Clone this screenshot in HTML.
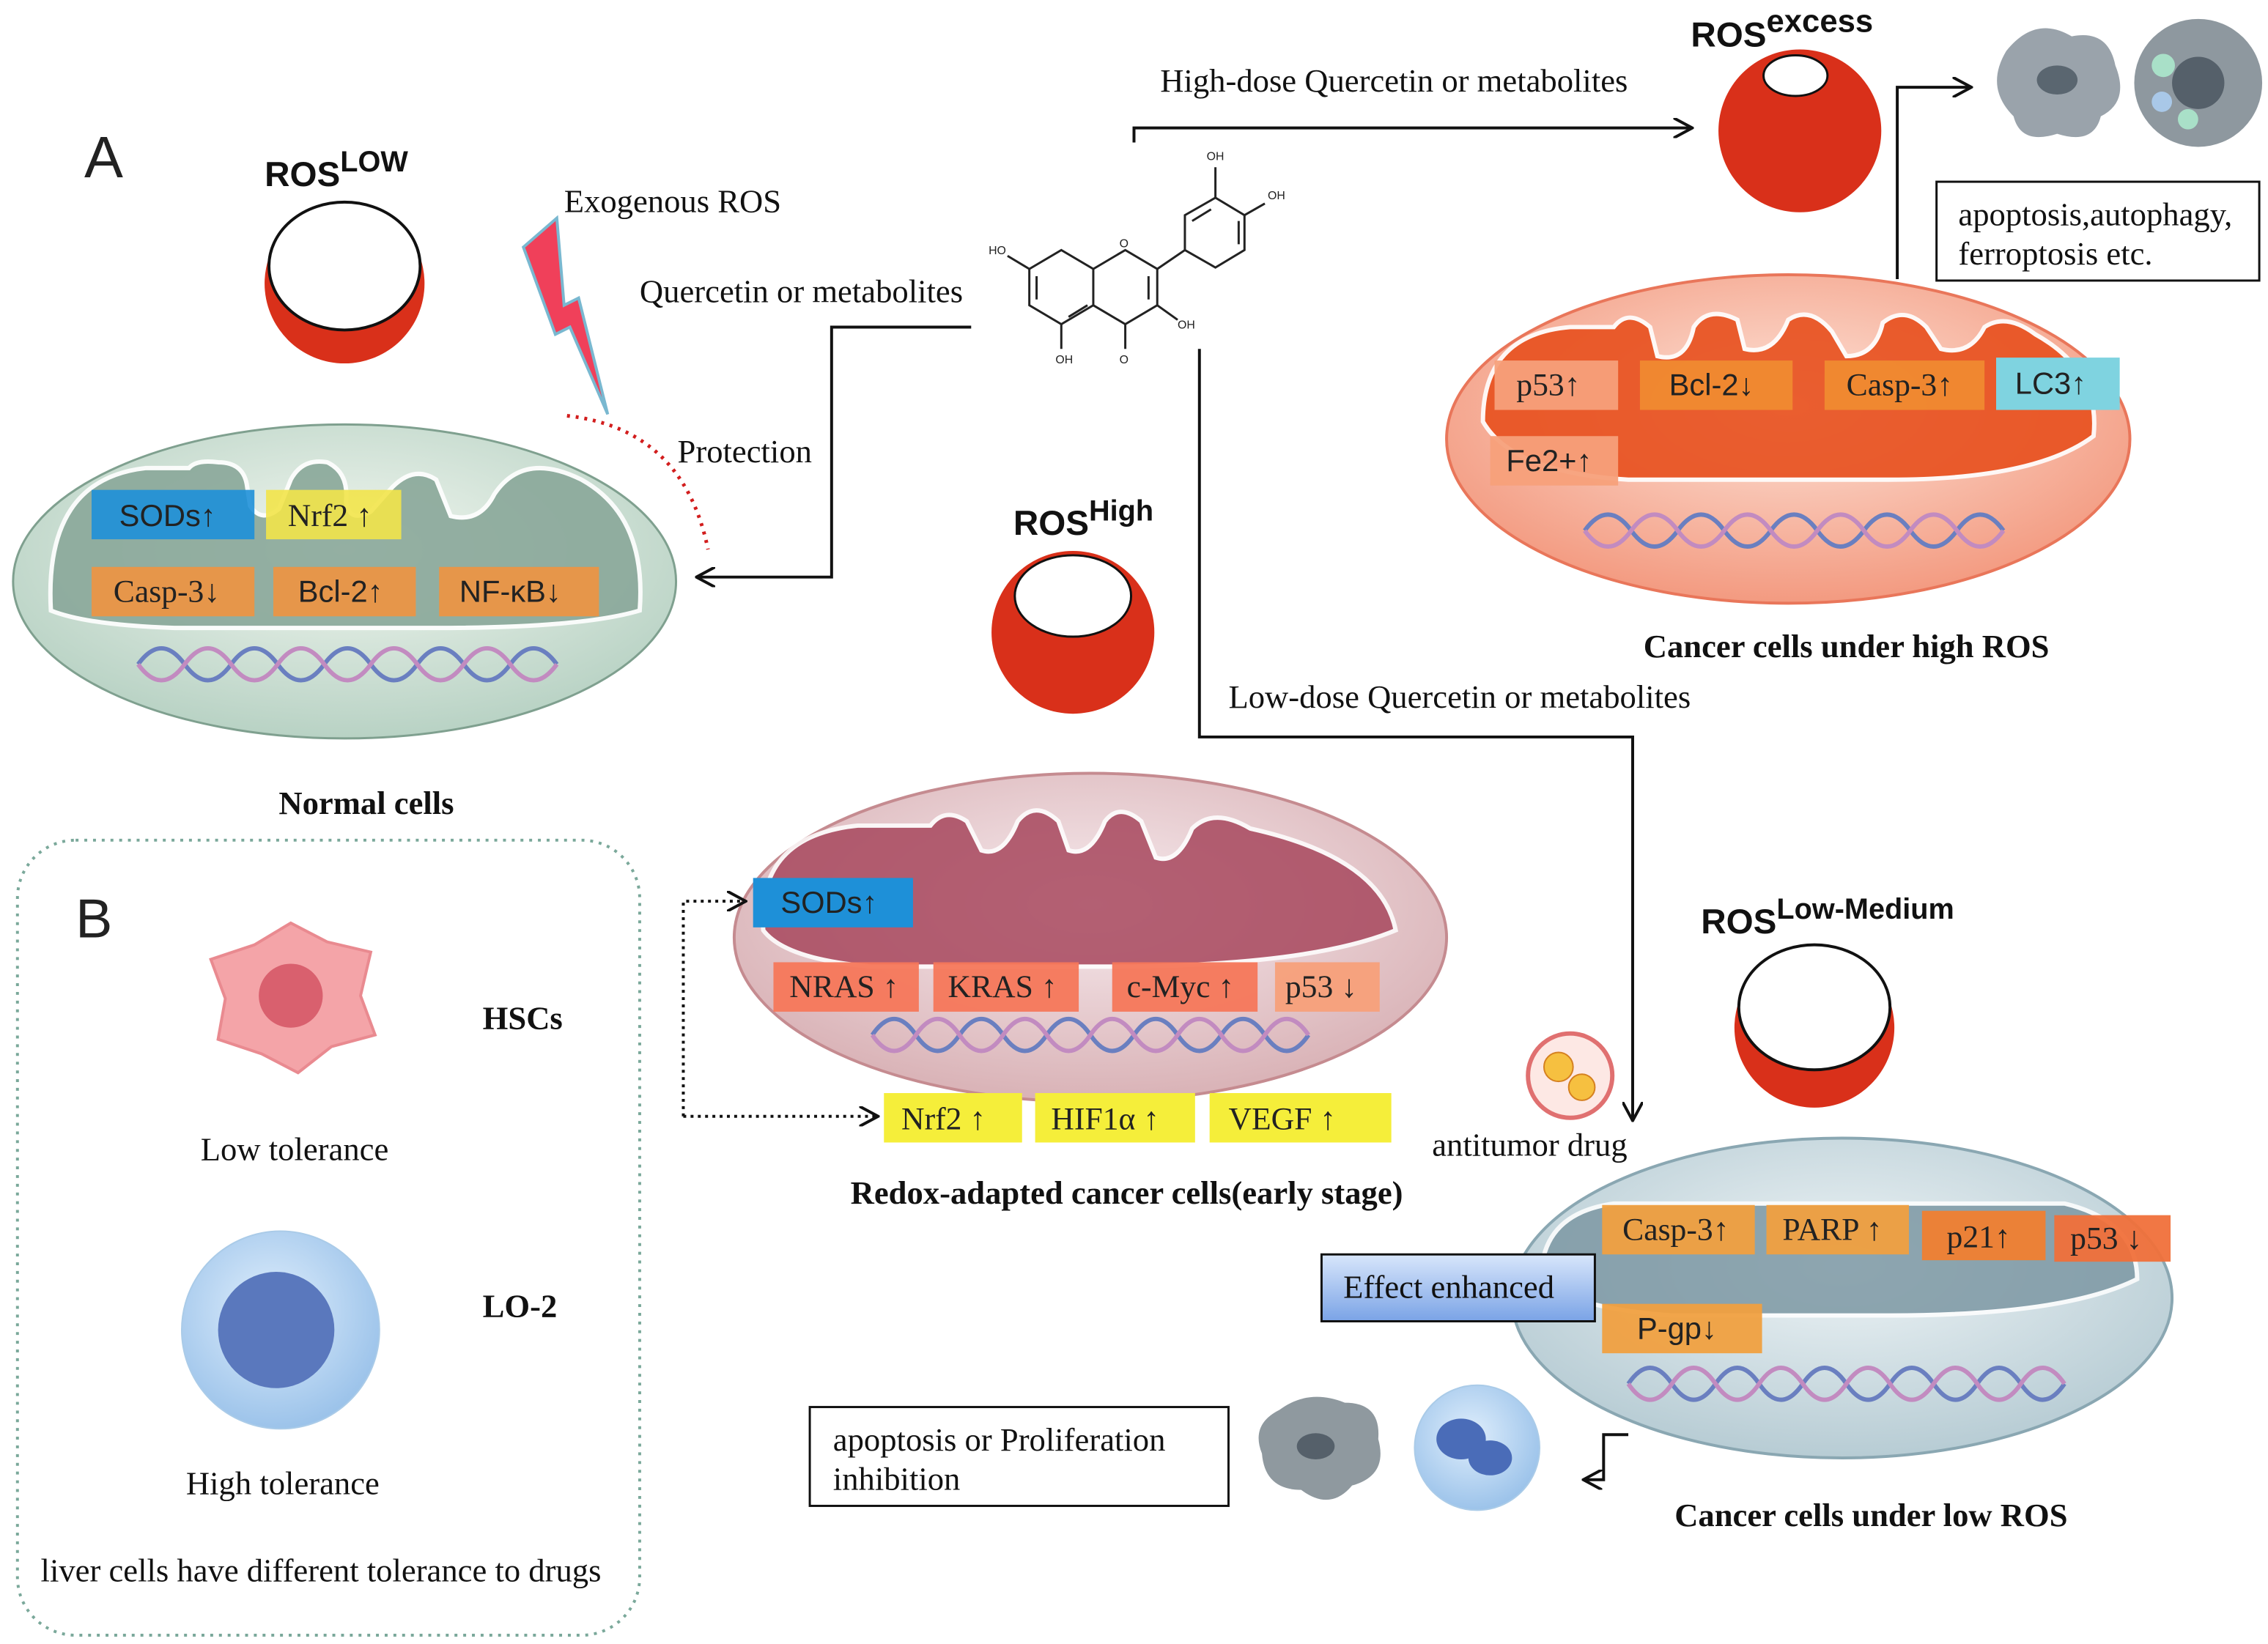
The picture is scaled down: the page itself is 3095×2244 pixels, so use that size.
<!DOCTYPE html>
<html><head><meta charset="utf-8"><style>
html,body{margin:0;padding:0;background:#fff;}
svg{display:block;}
.s{font-family:"Liberation Serif",serif;font-size:22.5px;fill:#111;}
.b{font-family:"Liberation Serif",serif;font-size:22.5px;font-weight:bold;fill:#111;}
.h{font-family:"Liberation Sans",sans-serif;font-weight:bold;fill:#111;}
.l{font-family:"Liberation Serif",serif;font-size:22px;fill:#222;}
.ls{font-family:"Liberation Sans",sans-serif;font-size:21px;fill:#222;}
</style></head><body>
<svg width="3095" height="2244" viewBox="0 0 1560 1131" xmlns="http://www.w3.org/2000/svg">
<defs>
<marker id="ar" markerWidth="14" markerHeight="14" refX="12" refY="7" orient="auto" markerUnits="userSpaceOnUse"><path d="M0,0 L13,7 L0,14" fill="none" stroke="#111" stroke-width="2"/></marker>
<radialGradient id="gGreen" cx="50%" cy="40%" r="60%"><stop offset="0" stop-color="#f2f7f0"/><stop offset="1" stop-color="#b8d2c4"/></radialGradient>
<radialGradient id="gSal" cx="50%" cy="40%" r="60%"><stop offset="0" stop-color="#fde3d8"/><stop offset="1" stop-color="#f39a80"/></radialGradient>
<radialGradient id="gPink" cx="50%" cy="40%" r="60%"><stop offset="0" stop-color="#f7ebee"/><stop offset="1" stop-color="#d9b2b6"/></radialGradient>
<radialGradient id="gBlue" cx="50%" cy="40%" r="60%"><stop offset="0" stop-color="#eef4f6"/><stop offset="1" stop-color="#b7ccd4"/></radialGradient>
<linearGradient id="eff" x1="0" y1="0" x2="0" y2="1"><stop offset="0" stop-color="#d8e6fb"/><stop offset="1" stop-color="#7aa3e6"/></linearGradient>
<radialGradient id="cellB" cx="45%" cy="40%" r="60%"><stop offset="0" stop-color="#dfeefc"/><stop offset="1" stop-color="#9cc3ea"/></radialGradient>
</defs>

<text x="58" y="122" class="ls" style="font-size:40px">A</text>
<text x="182" y="128" class="h" style="font-size:24px">ROS<tspan dy="-10" font-size="20">LOW</tspan></text>
<circle cx="237" cy="195" r="55" fill="#d9301a"/>
<ellipse cx="237" cy="183" rx="52" ry="44" fill="#fff" stroke="#111" stroke-width="2"/>

<path d="M360,170 L383,150 L388,210 L398,205 L418,285 L392,225 L382,230 Z" fill="#f0405a" stroke="#79b8d0" stroke-width="2"/>
<text x="388" y="146" class="s">Exogenous ROS</text>
<path d="M390,286 Q470,295 487,378" fill="none" stroke="#d21d1d" stroke-width="2.5" stroke-dasharray="2,4"/>
<text x="466" y="318" class="s">Protection</text>

<ellipse cx="237" cy="400" rx="228" ry="108" fill="url(#gGreen)" stroke="#7fa08f" stroke-width="1.5"/>
<path d="M35,420 Q30,330 100,322 L130,322 Q135,316 150,318 Q168,318 170,335 L172,348 Q180,360 192,350 L200,330 Q208,315 225,318 Q240,325 238,345 Q240,360 255,352 L270,335 Q285,320 300,330 L310,355 Q330,360 340,340 Q360,310 400,330 Q445,355 440,420 Q400,432 300,432 L120,432 Q60,430 35,420 Z" fill="#8aa89a" stroke="#fff" stroke-width="3" opacity="0.9"/>
<rect x="63" y="337" width="112" height="34" fill="#1e90d8" opacity="0.9"/><text x="82" y="362" class="ls">SODs↑</text>
<rect x="183" y="337" width="93" height="34" fill="#f2e44a" opacity="0.9"/><text x="198" y="362" class="l">Nrf2 ↑</text>
<rect x="63" y="390" width="112" height="34" fill="#ef9440" opacity="0.9"/><text x="78" y="414" class="l">Casp-3↓</text>
<rect x="188" y="390" width="98" height="34" fill="#ef9440" opacity="0.9"/><text x="205" y="414" class="ls">Bcl-2↑</text>
<rect x="302" y="390" width="110" height="34" fill="#ef9440" opacity="0.9"/><text x="316" y="414" class="ls">NF-κB↓</text>
<g fill="none" stroke-width="3">
<path d="M95,457 q16,-22 32,0 t32,0 t32,0 t32,0 t32,0 t32,0 t32,0 t32,0 t32,0" stroke="#6a7fc0"/>
<path d="M95,457 q16,22 32,0 t32,0 t32,0 t32,0 t32,0 t32,0 t32,0 t32,0 t32,0" stroke="#c28bc0"/>
</g>
<text x="252" y="560" class="b" text-anchor="middle">Normal cells</text>

<rect x="12" y="578" width="428" height="547" rx="40" fill="none" stroke="#7aa89a" stroke-width="2" stroke-dasharray="2,4"/>
<text x="52" y="645" class="ls" style="font-size:38px">B</text>
<path d="M200,635 L225,648 L255,655 L248,685 L258,712 L228,720 L205,738 L180,725 L150,715 L155,687 L145,660 L175,650 Z" fill="#f4a4a8" stroke="#e98a90" stroke-width="2"/>
<circle cx="200" cy="685" r="22" fill="#d9606e"/>
<text x="332" y="708" class="b">HSCs</text>
<text x="138" y="798" class="s">Low tolerance</text>
<circle cx="193" cy="915" r="68" fill="url(#cellB)" stroke="#aacbe8"/>
<circle cx="190" cy="915" r="40" fill="#5a78bd"/>
<text x="332" y="906" class="b">LO-2</text>
<text x="128" y="1028" class="s">High tolerance</text>
<text x="28" y="1088" class="s">liver cells have different tolerance to drugs</text>

<g fill="none" stroke="#222" stroke-width="1.5">
<path d="M708,185 L730,172 L752,185 L752,210 L730,223 L708,210 Z"/>
<path d="M752,185 L774,172 L796,185 L796,210 L774,223 L752,210"/>
<path d="M796,185 L815,172 L815,148 L836,136 L856,148 L856,172 L836,184 L815,172"/>
<path d="M836,136 L836,115 M856,148 L870,140 M796,210 L810,220 M774,223 L774,240 M730,223 L730,240 M708,185 L693,176"/>
<path d="M713,190 L713,206 M735,218 L748,210 M790,190 L790,206 M820,152 L833,144 M852,152 L852,168"/>
</g>
<g font-family="Liberation Sans,sans-serif" font-size="8" fill="#222">
<text x="830" y="110">OH</text><text x="872" y="137">OH</text><text x="810" y="226">OH</text>
<text x="770" y="250">O</text><text x="726" y="250">OH</text><text x="680" y="175">HO</text><text x="770" y="170">O</text>
</g>

<path d="M668,225 L572,225 L572,397 L480,397" fill="none" stroke="#111" stroke-width="2" marker-end="url(#ar)"/>
<text x="440" y="208" class="s">Quercetin or metabolites</text>
<path d="M780,98 L780,88 L1163,88" fill="none" stroke="#111" stroke-width="2" marker-end="url(#ar)"/>
<text x="798" y="63" class="s">High-dose Quercetin or metabolites</text>
<path d="M825,240 L825,507 L1123,507 L1123,770" fill="none" stroke="#111" stroke-width="2" marker-end="url(#ar)"/>
<text x="845" y="487" class="s">Low-dose Quercetin or metabolites</text>
<path d="M1305,192 L1305,60 L1355,60" fill="none" stroke="#111" stroke-width="2" marker-end="url(#ar)"/>

<text x="1163" y="32" class="h" style="font-size:24px">ROS<tspan dy="-10" font-size="22">excess</tspan></text>
<circle cx="1238" cy="90" r="56" fill="#d9301a"/>
<ellipse cx="1235" cy="52" rx="22" ry="14" fill="#fff" stroke="#111" stroke-width="1.5"/>
<path d="M1380,35 Q1400,10 1425,25 Q1450,20 1455,45 Q1465,70 1445,80 Q1440,100 1415,92 Q1390,100 1385,80 Q1365,60 1380,35 Z" fill="#9aa3ab"/>
<ellipse cx="1415" cy="55" rx="14" ry="10" fill="#5a6670"/>
<circle cx="1512" cy="57" r="44" fill="#8e989f"/>
<circle cx="1512" cy="57" r="18" fill="#55606a"/>
<circle cx="1488" cy="45" r="8" fill="#a9e0c8"/><circle cx="1487" cy="70" r="7" fill="#a9c8e8"/><circle cx="1505" cy="82" r="7" fill="#a9e0c8"/>
<rect x="1332" y="125" width="222" height="68" fill="#fff" stroke="#111" stroke-width="1.5"/>
<text x="1347" y="155" class="s">apoptosis,autophagy,</text>
<text x="1347" y="182" class="s">ferroptosis etc.</text>

<ellipse cx="1230" cy="302" rx="235" ry="113" fill="url(#gSal)" stroke="#e9765a" stroke-width="2"/>
<path d="M1020,290 Q1020,230 1080,225 L1110,225 Q1120,212 1135,225 L1140,245 Q1160,250 1165,225 Q1175,210 1195,220 L1200,240 Q1220,245 1230,220 Q1245,210 1260,228 L1270,245 Q1290,245 1295,222 Q1310,210 1325,225 L1335,240 Q1355,245 1365,225 Q1380,215 1400,230 Q1445,255 1440,300 Q1400,330 1300,330 L1120,330 Q1040,325 1020,290 Z" fill="#e8501e" stroke="#fff" stroke-width="3" opacity="0.9"/>
<rect x="1028" y="248" width="85" height="34" fill="#f7a07a" opacity="0.95"/><text x="1043" y="272" class="l">p53↑</text>
<rect x="1128" y="248" width="105" height="34" fill="#f08a30" opacity="0.95"/><text x="1148" y="272" class="ls">Bcl-2↓</text>
<rect x="1255" y="248" width="110" height="34" fill="#f08a30" opacity="0.95"/><text x="1270" y="272" class="l">Casp-3↑</text>
<rect x="1373" y="246" width="85" height="36" fill="#7fd3e0"/><text x="1386" y="271" class="ls">LC3↑</text>
<rect x="1025" y="300" width="88" height="34" fill="#f7a07a" opacity="0.95"/><text x="1036" y="324" class="ls">Fe2+↑</text>
<g fill="none" stroke-width="3">
<path d="M1090,365 q16,-22 32,0 t32,0 t32,0 t32,0 t32,0 t32,0 t32,0 t32,0 t32,0" stroke="#6a7fc0"/>
<path d="M1090,365 q16,22 32,0 t32,0 t32,0 t32,0 t32,0 t32,0 t32,0 t32,0 t32,0" stroke="#c28bc0"/>
</g>
<text x="1270" y="452" class="b" text-anchor="middle">Cancer cells under high ROS</text>

<text x="697" y="368" class="h" style="font-size:24px">ROS<tspan dy="-10" font-size="20">High</tspan></text>
<circle cx="738" cy="435" r="56" fill="#d9301a"/>
<ellipse cx="738" cy="410" rx="40" ry="28" fill="#fff" stroke="#111" stroke-width="1.5"/>

<ellipse cx="750" cy="645" rx="245" ry="113" fill="url(#gPink)" stroke="#c58b90" stroke-width="2"/>
<path d="M525,640 Q520,575 590,568 L640,568 Q650,555 665,565 L675,585 Q690,590 700,565 Q712,550 728,565 L735,585 Q750,590 760,565 Q770,552 785,565 L795,590 Q810,595 820,570 Q835,555 860,570 Q950,590 960,640 Q900,665 760,665 L600,665 Q540,660 525,640 Z" fill="#a8485e" stroke="#fff" stroke-width="3" opacity="0.85"/>
<rect x="518" y="604" width="110" height="34" fill="#1e90d8"/><text x="537" y="628" class="ls">SODs↑</text>
<rect x="532" y="662" width="100" height="34" fill="#f5775a" opacity="0.95"/><text x="543" y="686" class="l">NRAS ↑</text>
<rect x="642" y="662" width="100" height="34" fill="#f5775a" opacity="0.95"/><text x="652" y="686" class="l">KRAS ↑</text>
<rect x="765" y="662" width="100" height="34" fill="#f5775a" opacity="0.95"/><text x="775" y="686" class="l">c-Myc ↑</text>
<rect x="877" y="662" width="72" height="34" fill="#f7a07a" opacity="0.95"/><text x="884" y="686" class="l">p53 ↓</text>
<g fill="none" stroke-width="3">
<path d="M600,712 q15,-22 30,0 t30,0 t30,0 t30,0 t30,0 t30,0 t30,0 t30,0 t30,0 t30,0" stroke="#6a7fc0"/>
<path d="M600,712 q15,22 30,0 t30,0 t30,0 t30,0 t30,0 t30,0 t30,0 t30,0 t30,0 t30,0" stroke="#c28bc0"/>
</g>
<rect x="608" y="752" width="95" height="34" fill="#f5ee3a"/><text x="620" y="777" class="l">Nrf2 ↑</text>
<rect x="712" y="752" width="110" height="34" fill="#f5ee3a"/><text x="723" y="777" class="l">HIF1α ↑</text>
<rect x="832" y="752" width="125" height="34" fill="#f5ee3a"/><text x="845" y="777" class="l">VEGF ↑</text>
<path d="M470,768 L470,620 L512,620" fill="none" stroke="#111" stroke-width="2" stroke-dasharray="2,3" marker-end="url(#ar)"/>
<path d="M470,768 L603,768" fill="none" stroke="#111" stroke-width="2" stroke-dasharray="2,3" marker-end="url(#ar)"/>
<text x="775" y="828" class="b" text-anchor="middle">Redox-adapted cancer cells(early stage)</text>

<text x="1170" y="642" class="h" style="font-size:24px">ROS<tspan dy="-10" font-size="20">Low-Medium</tspan></text>
<circle cx="1248" cy="707" r="55" fill="#d9301a"/>
<ellipse cx="1248" cy="693" rx="52" ry="43" fill="#fff" stroke="#111" stroke-width="2"/>
<circle cx="1080" cy="740" r="29" fill="#fde8e4" stroke="#e07070" stroke-width="3"/>
<circle cx="1072" cy="734" r="10" fill="#f6c040" stroke="#d58020"/><circle cx="1088" cy="748" r="9" fill="#f6c040" stroke="#d58020"/>
<text x="985" y="795" class="s">antitumor drug</text>

<ellipse cx="1267" cy="893" rx="227" ry="110" fill="url(#gBlue)" stroke="#8aa7b2" stroke-width="2"/>
<path d="M1060,880 Q1060,835 1110,828 L1420,828 Q1470,840 1470,880 Q1420,905 1300,905 L1150,905 Q1080,900 1060,880 Z" fill="#7d98a4" stroke="#fff" stroke-width="3" opacity="0.85"/>
<rect x="1102" y="829" width="105" height="34" fill="#f0a040" opacity="0.95"/><text x="1116" y="853" class="l">Casp-3↑</text>
<rect x="1215" y="829" width="98" height="34" fill="#f0a040" opacity="0.95"/><text x="1226" y="853" class="l">PARP ↑</text>
<rect x="1322" y="833" width="85" height="34" fill="#f08030" opacity="0.95"/><text x="1339" y="858" class="l">p21↑</text>
<rect x="1413" y="836" width="80" height="32" fill="#f0703a" opacity="0.95"/><text x="1424" y="859" class="l">p53 ↓</text>
<rect x="1102" y="897" width="110" height="34" fill="#f0a040" opacity="0.95"/><text x="1126" y="921" class="ls">P-gp↓</text>
<rect x="909" y="863" width="188" height="46" fill="url(#eff)" stroke="#111" stroke-width="1.5"/><text x="924" y="893" class="s">Effect enhanced</text>
<g fill="none" stroke-width="3">
<path d="M1120,952 q15,-22 30,0 t30,0 t30,0 t30,0 t30,0 t30,0 t30,0 t30,0 t30,0 t30,0" stroke="#6a7fc0"/>
<path d="M1120,952 q15,22 30,0 t30,0 t30,0 t30,0 t30,0 t30,0 t30,0 t30,0 t30,0 t30,0" stroke="#c28bc0"/>
</g>
<text x="1287" y="1050" class="b" text-anchor="middle">Cancer cells under low ROS</text>
<path d="M1120,987 L1103,987 L1103,1018 L1090,1018" fill="none" stroke="#111" stroke-width="2" marker-end="url(#ar)"/>
<path d="M880,970 Q900,955 925,965 Q950,965 948,990 Q955,1015 930,1022 Q915,1040 895,1025 Q870,1025 868,1000 Q860,980 880,970 Z" fill="#8f999f"/>
<ellipse cx="905" cy="995" rx="13" ry="9" fill="#55606a"/>
<circle cx="1016" cy="996" r="43" fill="url(#cellB)" stroke="#aacbe8"/>
<ellipse cx="1005" cy="990" rx="17" ry="14" fill="#4a6cb8"/><ellipse cx="1025" cy="1003" rx="15" ry="12" fill="#4a6cb8"/>
<rect x="557" y="968" width="288" height="68" fill="#fff" stroke="#111" stroke-width="1.5"/>
<text x="573" y="998" class="s">apoptosis or Proliferation</text>
<text x="573" y="1025" class="s">inhibition</text>
</svg>
</body></html>
